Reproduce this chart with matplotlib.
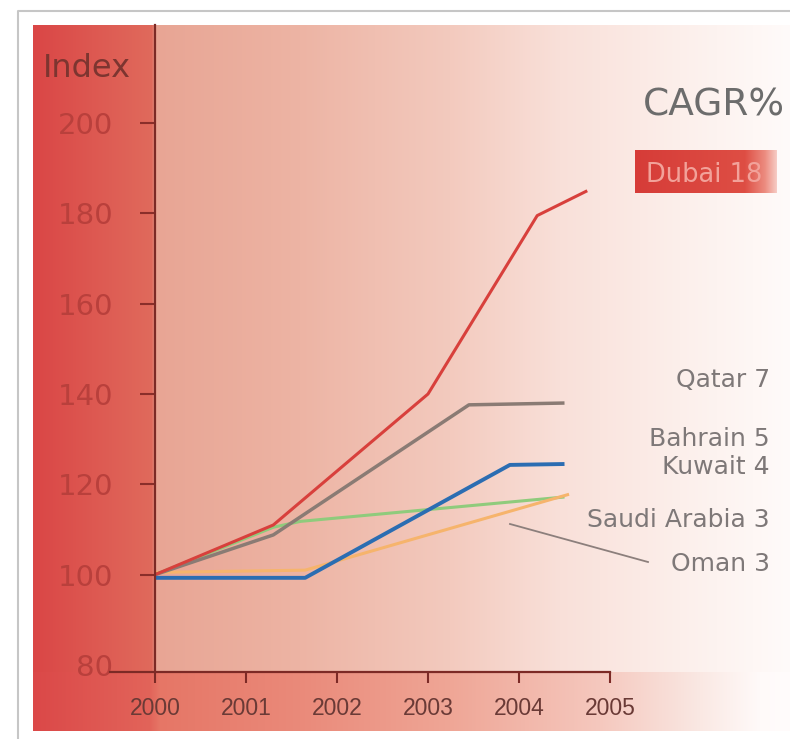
import numpy as np
import matplotlib.pyplot as plt
from matplotlib import font_manager

# --- DATA ---
dubai_x = [2000, 2001.3, 2003, 2004.2, 2004.75]
dubai_y = [100, 111, 140, 179.5, 185]

qatar_x = [2000, 2001.3, 2003.45, 2004.5]
qatar_y = [100, 108.8, 137.6, 138]

kuwait_x = [2000, 2001.65, 2003.9, 2004.5]
kuwait_y = [99.3, 99.3, 124.3, 124.5]

saudi_x = [2000, 2001.3, 2001.6, 2004.5]
saudi_y = [100, 110.5, 111.8, 117.2]

oman_x = [2000, 2001.65, 2004.55]
oman_y = [100.5, 101, 117.8]

y_ticks = [80, 100, 120, 140, 160, 180, 200]
x_ticks = [2000, 2001, 2002, 2003, 2004, 2005]

cagr_labels = ['Qatar 7', 'Bahrain 5', 'Kuwait 4', 'Saudi Arabia 3', 'Oman 3']
cagr_baselines = [387, 446, 474, 527, 571]   # pixel rows

W, H = 790, 739

fig = plt.figure(figsize=(W / 100, H / 100), dpi=100)
fig.patch.set_facecolor('white')

# background layer in pixel coordinates
bg = fig.add_axes([0, 0, 1, 1])
bg.axis('off')


def hgrad(x0, x1, stops, cols):
    xs = np.arange(x0, x1) + 0.5
    cols = np.array(cols, dtype=float)
    return np.stack([np.interp(xs, stops, cols[:, k]) for k in range(3)], axis=-1) / 255


# panel gradient
px0, px1, py0, py1 = 33, 790, 25, 731
main_row = hgrad(px0, px1,
                 [33, 152, 156, 300, 450, 560, 680, 790],
                 [(218, 70, 70), (224, 106, 92), (232, 165, 148), (237, 180, 164),
                  (243, 202, 190), (249, 224, 217), (252, 239, 235), (255, 251, 250)])
bot_row = hgrad(px0, px1,
                [33, 150, 160, 300, 450, 600, 700, 760, 790],
                [(219, 72, 72), (226, 100, 90), (230, 118, 102), (234, 138, 122),
                 (239, 166, 150), (245, 200, 190), (250, 232, 227), (255, 250, 249),
                 (255, 252, 252)])
img = np.tile(main_row, (py1 - py0, 1, 1))
img[672 - py0:] = bot_row
bg.imshow(img, extent=(px0, px1, py1, py0), aspect='auto', interpolation='bilinear')

# Dubai highlight box
box = hgrad(635, 777, [635, 745, 765, 777],
            [(214, 60, 56), (222, 78, 68), (236, 140, 128), (247, 205, 198)])
bg.imshow(np.tile(box, (43, 1, 1)), extent=(635, 777, 193, 150), aspect='auto',
          interpolation='bilinear')

# outer frame
bg.plot([18, 18, 790], [739, 11, 11], color='#c6c6c6', lw=1.5)

# leader line for Oman
bg.plot([510, 648], [524, 562], color='#8c7f7c', lw=1.3)

bg.text(43, 77, 'Index', fontsize=23, color='#7d3530', ha='left', va='baseline')
bg.text(785, 115, 'CAGR%', fontsize=27, color='#6c6c6c', ha='right', va='baseline')
bg.text(762, 182, 'Dubai 18', fontsize=18.5, color='#f2a29a', ha='right', va='baseline')
for lab, yb in zip(cagr_labels, cagr_baselines):
    bg.text(770, yb, lab, fontsize=18, color='#7e7878', ha='right', va='baseline')

bg.set_xlim(0, W)
bg.set_ylim(H, 0)

# --- data axes ---
# 2000 -> px 155, 2005 -> px 610 ; 80 -> px 665, 200 -> px 123
ppy = (665 - 123) / 120
ax = fig.add_axes([110 / W, (H - 672) / H, 500 / W, 647 / H])
ax.patch.set_alpha(0)
ax.set_xlim(2000 - 45 / 91, 2005)
ax.set_ylim(80 - 7 / ppy, 80 + (665 - 25) / ppy)

ax.plot(saudi_x, saudi_y, color='#8fcb7c', lw=2.2, solid_capstyle='butt')
ax.plot(oman_x, oman_y, color='#f6b46c', lw=2.2, solid_capstyle='butt')
ax.plot(qatar_x, qatar_y, color='#8a7b74', lw=2.5, solid_capstyle='butt')
ax.plot(dubai_x, dubai_y, color='#d8403c', lw=2.2, solid_capstyle='butt')
ax.plot(kuwait_x, kuwait_y, color='#2b6db2', lw=2.8, solid_capstyle='butt')

for s in ['top', 'right']:
    ax.spines[s].set_visible(False)
ax.spines['left'].set_position(('data', 2000))
ax.spines['left'].set_color('#7c2a26')
ax.spines['bottom'].set_color('#7c2a26')
ax.spines['left'].set_linewidth(1.6)
ax.spines['bottom'].set_linewidth(1.6)

ax.set_yticks(y_ticks)
ax.set_yticklabels([str(v) for v in y_ticks])
ax.tick_params(axis='y', direction='out', length=11, width=1.5, color='#8a2e2a',
               pad=19, labelsize=21, labelcolor='#b9403c')
ax.yaxis.get_major_ticks()[0].tick1line.set_visible(False)

try:
    font_manager.findfont('Liberation Sans Narrow', fallback_to_default=False)
    xfam, xsize = 'Liberation Sans Narrow', 18
except Exception:
    xfam, xsize = 'Liberation Sans', 16.5

ax.set_xticks(x_ticks)
ax.set_xticklabels([str(v) for v in x_ticks], family=xfam)
ax.tick_params(axis='x', direction='out', length=8, width=1.5, color='#7c2a26',
               pad=10, labelsize=xsize, labelcolor='#6a3a36')

fig.savefig('out.png', dpi=100)
